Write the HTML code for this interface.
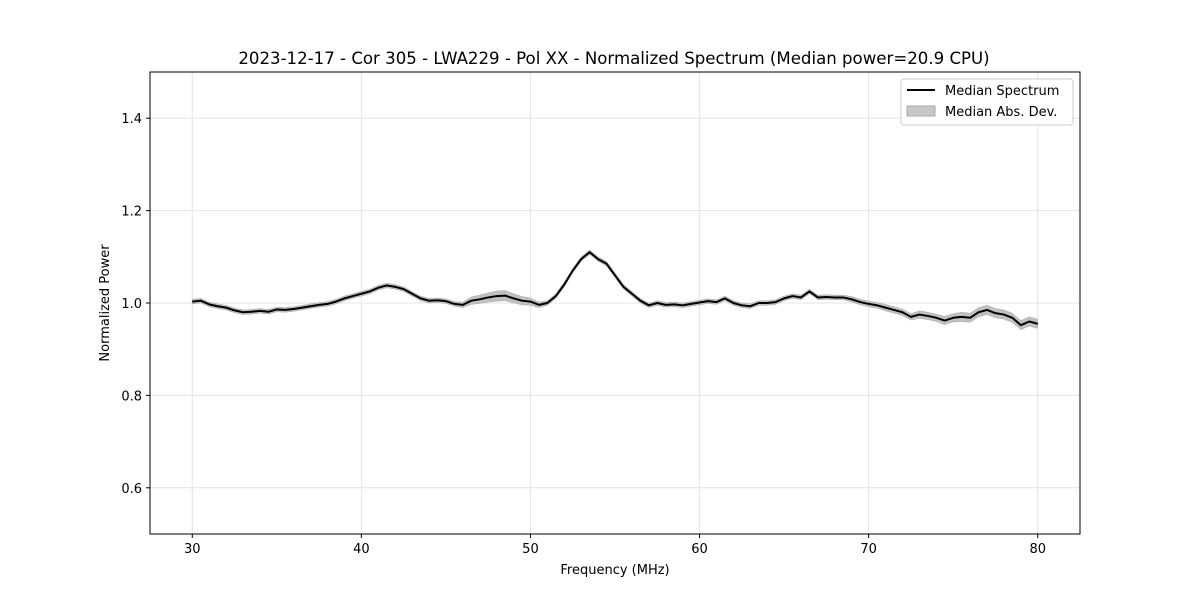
<!DOCTYPE html>
<html><head><meta charset="utf-8"><style>
body{margin:0;background:#fff}
svg text{font-family:"DejaVu Sans","Liberation Sans",sans-serif;fill:#000}
</style></head><body>
<svg width="1200" height="600" viewBox="0 0 1200 600">
<rect width="1200" height="600" fill="#fff"/>
<g id="grid"></g>
<g id="series"></g>
<rect x="150" y="72" width="930" height="462" fill="none" stroke="#000" stroke-width="1"/>
<g id="axes"></g>
<text x="614" y="64" font-size="16.6" text-anchor="middle">2023-12-17 - Cor 305 - LWA229 - Pol XX - Normalized Spectrum (Median power=20.9 CPU)</text>
<text x="615" y="574" font-size="13" text-anchor="middle">Frequency (MHz)</text>
<text transform="translate(109,303) rotate(-90)" font-size="13" text-anchor="middle">Normalized Power</text>
<g>
<rect x="901" y="79" width="172" height="46" rx="3" fill="#fff" stroke="#ccc"/>
<line x1="907" y1="90" x2="935" y2="90" stroke="#000" stroke-width="2"/>
<text x="945" y="95" font-size="13">Median Spectrum</text>
<rect x="907" y="106" width="28" height="10" fill="#c8c8c8" stroke="#aaa"/>
<text x="945" y="116" font-size="13">Median Abs. Dev.</text>
</g>
</svg>
<script>
const freqStart = 30, freqStep = 0.5;
const medianValues = [1.003,1.005,0.997,0.993,0.990,0.984,0.980,0.981,0.983,0.981,0.986,0.985,0.987,0.990,0.993,0.996,0.998,1.003,1.010,1.015,1.020,1.025,1.033,1.038,1.035,1.030,1.020,1.010,1.005,1.006,1.004,0.998,0.996,1.005,1.008,1.012,1.015,1.016,1.010,1.005,1.003,0.996,1.000,1.015,1.040,1.070,1.095,1.110,1.095,1.085,1.060,1.035,1.020,1.005,0.995,1.000,0.996,0.997,0.995,0.998,1.001,1.004,1.002,1.010,1.000,0.995,0.993,1.000,1.000,1.002,1.010,1.015,1.012,1.025,1.012,1.013,1.012,1.012,1.008,1.002,0.998,0.995,0.990,0.985,0.980,0.970,0.975,0.972,0.968,0.962,0.968,0.970,0.968,0.980,0.985,0.978,0.975,0.968,0.952,0.960,0.955];
const madValues = [0.005,0.005,0.005,0.005,0.005,0.005,0.005,0.005,0.005,0.005,0.005,0.005,0.005,0.005,0.005,0.005,0.005,0.005,0.005,0.005,0.005,0.005,0.005,0.005,0.005,0.005,0.005,0.005,0.005,0.005,0.005,0.005,0.006,0.008,0.009,0.010,0.011,0.011,0.010,0.009,0.008,0.006,0.005,0.005,0.005,0.005,0.005,0.005,0.005,0.005,0.005,0.005,0.005,0.005,0.005,0.005,0.005,0.005,0.005,0.005,0.005,0.005,0.005,0.005,0.005,0.005,0.005,0.005,0.005,0.005,0.005,0.005,0.005,0.005,0.005,0.005,0.005,0.005,0.006,0.006,0.006,0.006,0.007,0.007,0.007,0.007,0.008,0.008,0.008,0.009,0.009,0.010,0.010,0.010,0.010,0.010,0.010,0.010,0.010,0.010,0.010];
const xTicks = [30,40,50,60,70,80];
const yTicks = [0.6,0.8,1.0,1.2,1.4];
const yTickLabels = ["0.6","0.8","1.0","1.2","1.4"];
const NS="http://www.w3.org/2000/svg";
const xs = f => 150 + (f-27.5)/(82.5-27.5)*930;
const ys = v => 534 - (v-0.5)/(1.5-0.5)*462;
function mk(tag, attrs, parent){const e=document.createElementNS(NS,tag);for(const k in attrs)e.setAttribute(k,attrs[k]);parent.appendChild(e);return e;}
const grid=document.getElementById('grid'), axes=document.getElementById('axes'), ser=document.getElementById('series');
xTicks.forEach(t=>{
  const g=mk('line',{x1:xs(t),x2:xs(t),y1:72,y2:534,stroke:'#e4e4e4','stroke-width':1},grid);
  
  
  const tk=mk('line',{x1:xs(t),x2:xs(t),y1:534,y2:538,stroke:'#000'},axes);
  
  
  const tx=mk('text',{x:xs(t),y:553,'font-size':13,'text-anchor':'middle'},axes);
  tx.textContent=t;
  
  
});
yTicks.forEach((t,i)=>{
  const g=mk('line',{x1:150,x2:1080,y1:ys(t),y2:ys(t),stroke:'#e4e4e4','stroke-width':1},grid);
  
  
  const tk=mk('line',{x1:146,x2:150,y1:ys(t),y2:ys(t),stroke:'#000'},axes);
  
  
  const tx=mk('text',{x:142,y:ys(t)+5,'font-size':13,'text-anchor':'end'},axes);
  tx.textContent=yTickLabels[i];
  
  
});
const fr = medianValues.map((_,i)=>freqStart+i*freqStep);
let up=fr.map((f,i)=>xs(f)+','+ys(medianValues[i]+madValues[i]));
let dn=fr.map((f,i)=>xs(f)+','+ys(medianValues[i]-madValues[i])).reverse();
const band=mk('polygon',{points:up.concat(dn).join(' '),fill:'#c0c0c0',stroke:'#aaa','stroke-width':0.5},ser);


const line=mk('polyline',{points:fr.map((f,i)=>xs(f)+','+ys(medianValues[i])).join(' '),fill:'none',stroke:'#000','stroke-width':2,'stroke-linejoin':'round'},ser);


</script>
</body></html>
